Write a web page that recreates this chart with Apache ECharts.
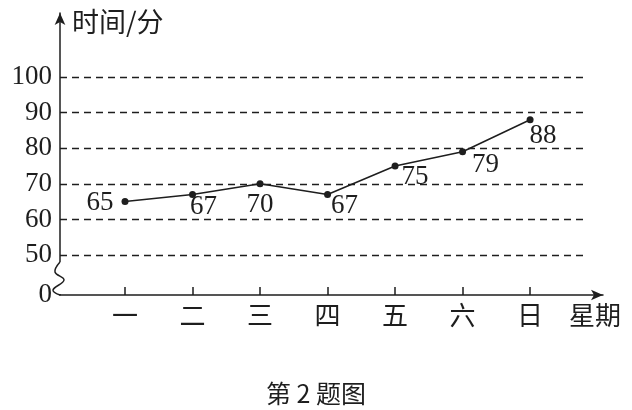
<!DOCTYPE html>
<html><head><meta charset="utf-8">
<script src="https://cdn.jsdelivr.net/npm/echarts@6/dist/echarts.min.js"></script>
<style>html,body{margin:0;padding:0;background:#fff}#c{width:632px;height:410px}</style>
</head><body><div id="c"></div>
<script>
// ---- data ----
const days = ['一','二','三','四','五','六','日'];
const minutes = [65, 67, 70, 67, 75, 79, 88];
const yTicks = [50, 60, 70, 80, 90, 100];
const xTickValues = [1, 2, 3, 4, 5, 6, 7];

// ---- layout / style (kept apart from data) ----
const yBreakBase = 38.76;   // bottom of the broken axis, labelled "0"
const yTop = 118;
const xMin = 0.037;
const xMax = 8.08;
const gridLineEnd = 7.785;
const labelOffsets = [[-25,1],[11,12],[0,21],[17,11],[20,11],[23,13],[13,16]];
const INK = '#1e1e1e';
const SERIF = 'Liberation Serif';
const CJK = 'Noto Sans CJK SC';

const chart = echarts.init(document.getElementById('c'), null, {renderer: 'canvas'});
const option = {
  animation: false,
  backgroundColor: '#fff',
  title: {
    text: '第 2 题图', left: 'center', top: 376,
    textStyle: {fontFamily: CJK, fontSize: 25, fontWeight: 'normal', color: INK}
  },
  grid: {left: 60, top: 13, width: 543, height: 282, containLabel: false, outerBoundsMode: 'none'},
  xAxis: {
    type: 'value', min: xMin, max: xMax,
    name: '星期', nameLocation: 'end', nameGap: -8,
    nameTextStyle: {fontFamily: CJK, fontSize: 26, color: INK, align: 'center', verticalAlign: 'top', padding: [7, 0, 0, 0]},
    axisLine: {lineStyle: {color: INK, width: 1.5}, symbol: ['none', 'arrow'], symbolSize: [8, 12]},
    axisTick: {show: true, inside: true, length: 8, customValues: xTickValues, lineStyle: {color: INK, width: 1.5}},
    axisLabel: {customValues: xTickValues, formatter: v => days[Math.round(v) - 1] || '', margin: 7,
      fontFamily: CJK, fontSize: 26, color: INK},
    splitLine: {show: false}
  },
  yAxis: {
    type: 'value', min: yBreakBase, max: yTop,
    name: '时间/分', nameLocation: 'end', nameGap: -9,
    nameTextStyle: {fontFamily: CJK, fontSize: 27, color: INK, align: 'left', verticalAlign: 'middle', padding: [0, 0, 0, 12]},
    axisLine: {show: true, lineStyle: {color: INK, width: 1.5}, symbol: ['none', 'arrow'], symbolSize: [8, 12]},
    axisTick: {show: false},
    axisLabel: {customValues: [yBreakBase].concat(yTicks),
      formatter: v => (Math.abs(v - yBreakBase) < 1e-6 ? '0' : String(v)),
      margin: 8, fontFamily: SERIF, fontSize: 27, color: INK},
    splitLine: {show: false}
  },
  series: [{
    type: 'line',
    data: minutes.map((m, i) => ({
      value: [xTickValues[i], m],
      label: {offset: labelOffsets[i]}
    })),
    symbol: 'circle', symbolSize: 7,
    itemStyle: {color: INK},
    lineStyle: {color: INK, width: 1.5},
    label: {show: true, position: 'inside', formatter: p => p.value[1],
      fontFamily: SERIF, fontSize: 27, color: INK},
    markLine: {
      silent: true, symbol: ['none', 'none'], label: {show: false},
      lineStyle: {type: [7, 5], width: 1.3, color: INK},
      data: yTicks.map(v => [{coord: [xMin, v]}, {coord: [gridLineEnd, v]}])
    }
  }]
};
chart.setOption(option);

// broken-axis zigzag between the axis base and the first gridline
const base = chart.convertToPixel({gridIndex: 0}, [xMin, yBreakBase]);
const x0 = base[0], yb = base[1];
chart.setOption({
  graphic: [
    {type: 'rect', shape: {x: x0 - 3, y: yb - 33, width: 6, height: 32}, style: {fill: '#fff'}, z: 100},
    {type: 'polyline', z: 101,
      shape: {points: [[x0, yb - 33], [x0 - 5, yb - 23], [x0 + 4, yb - 15], [x0 - 7, yb - 5], [x0, yb]], smooth: 0.4},
      style: {stroke: INK, lineWidth: 1.5, fill: 'none'}}
  ]
});
</script></body></html>
